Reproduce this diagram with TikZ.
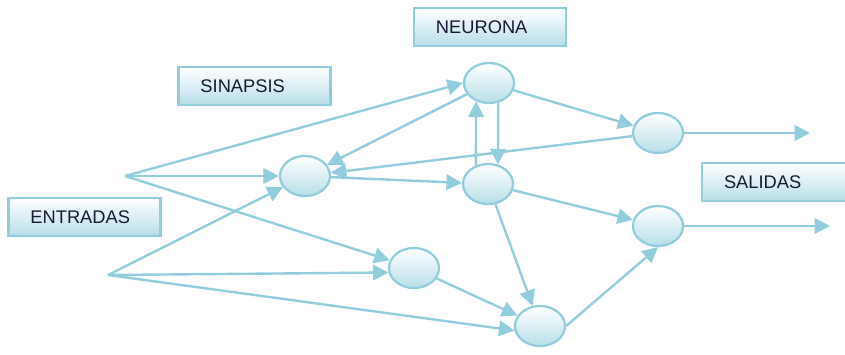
\documentclass[tikz,border=0pt]{standalone}
\usepackage{fontspec}
\setmainfont{Liberation Sans}
\usetikzlibrary{arrows.meta,shapes.geometric}
\definecolor{nnline}{RGB}{146,205,221}
\definecolor{nnfill}{RGB}{183,222,232}
\definecolor{nntext}{RGB}{25,25,50}

\begin{document}
\begin{tikzpicture}[
  x=0.025cm, y=-0.025cm,
  font=\fontsize{13}{15}\selectfont,
  neuron/.style={ellipse, draw=nnline, line width=1.6pt, top color=white, bottom color=nnfill,
    minimum width=1.25cm, minimum height=1cm, inner sep=0pt},
  tag/.style={draw=nnline, line width=1.6pt, top color=white, bottom color=nnfill,
    text width=2.7cm, inner xsep=0.55cm, minimum height=0.96cm, align=left, text=nntext},
  link/.style={draw=nnline, line width=1.7pt, -{Triangle[length=11pt,width=11pt]}}
]
\clip (0,0) rectangle (845,354);
% labels
\node[tag] (neurona) at (490,27) {NEURONA};
\node[tag] (sinapsis) at (254.5,86) {SINAPSIS};
\node[tag] (entradas) at (84.5,217) {ENTRADAS};
\node[tag] (salidas) at (778,182) {SALIDAS};
% inputs, neurons, outputs
\coordinate (e1) at (125,176);
\coordinate (e2) at (108,275);
\node[neuron] (n1) at (489,83) {};
\node[neuron] (n2) at (305,176) {};
\node[neuron] (n3) at (488,184) {};
\node[neuron] (n4) at (658,133) {};
\node[neuron] (n5) at (658,226) {};
\node[neuron] (n6) at (414,268) {};
\node[neuron] (n7) at (540,326) {};
\coordinate (s1) at (810,133);
\coordinate (s2) at (830,226);
\foreach \a/\b in {e1/n1.west, e1/n2, e1/n6, e2/n2, e2/n6.190, e2/n7.190, n1/n2, n4/n2, n2/n3,
  n1/n4, n3/n5, n3/n7, n6/n7, n7.east/n5.south, n4/s1, n5/s2, n1.-65/n3.63, n3.123/n1.-125}
  \draw[link] (\a) -- (\b);
\end{tikzpicture}
\end{document}
